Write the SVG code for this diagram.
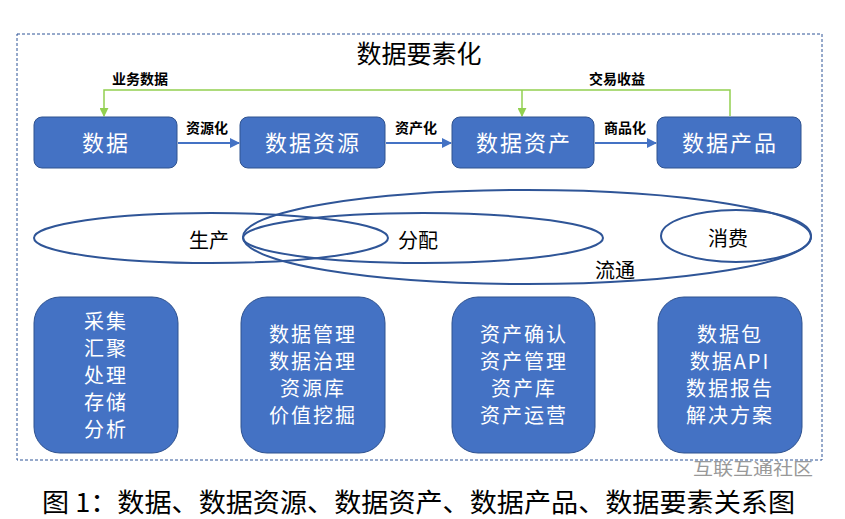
<svg xmlns="http://www.w3.org/2000/svg" width="845" height="519" viewBox="0 0 845 519">
<defs>
<style>
.frame{fill:none;stroke:#2F5597;stroke-width:1;stroke-dasharray:3 2}
.box{fill:#4472C4;stroke:#2F528F;stroke-width:1}
.t{font-family:"Noto Sans CJK SC","Liberation Sans",sans-serif;text-anchor:middle}
.bt{fill:#fff;font-size:22px;letter-spacing:2px}
.lt{fill:#fff;font-size:20px;letter-spacing:2px}
.lab{fill:#000;font-size:14px;font-weight:bold}
.ell{fill:none;stroke:#2F5597;stroke-width:2}
.el{fill:#000;font-size:20px}
.flow{stroke:#4472C4;stroke-width:2;fill:none}
.green{stroke:#92D050;stroke-width:1.5;fill:none}
</style>
<marker id="ab" viewBox="0 0 10 10" refX="9" refY="5" markerWidth="5" markerHeight="5" orient="auto"><path d="M0,0L10,5L0,10z" fill="#4472C4"/></marker>
<marker id="ag" viewBox="0 0 10 10" refX="9" refY="5" markerWidth="6" markerHeight="6" orient="auto"><path d="M0,0L10,5L0,10z" fill="#92D050"/></marker>
</defs>
<rect class="frame" x="17" y="34" width="805" height="426"/>
<text class="t" x="419" y="63" font-size="25" fill="#000">数据要素化</text>

<g id="connectors">
<path class="flow" d="M178,143H239" marker-end="url(#ab)"/>
<path class="flow" d="M386,143H451" marker-end="url(#ab)"/>
<path class="flow" d="M595,143H656" marker-end="url(#ab)"/>
<path class="green" d="M730,116V90H104V116" marker-end="url(#ag)"/>
<path class="green" d="M522,90V116" marker-end="url(#ag)"/>
<text class="t lab" x="140" y="84">业务数据</text>
<text class="t lab" x="617" y="84">交易收益</text>
<text class="t lab" x="207" y="133">资源化</text>
<text class="t lab" x="416" y="133">资产化</text>
<text class="t lab" x="625" y="133">商品化</text>
</g>

<g id="n-shuju"><rect class="box" x="34" y="117" width="143" height="51" rx="8"/><text class="t bt" x="106" y="151">数据</text></g>
<g id="n-ziyuan"><rect class="box" x="240" y="117" width="145" height="51" rx="8"/><text class="t bt" x="313" y="151">数据资源</text></g>
<g id="n-zichan"><rect class="box" x="452" y="117" width="142" height="51" rx="8"/><text class="t bt" x="524" y="151">数据资产</text></g>
<g id="n-chanpin"><rect class="box" x="657" y="117" width="144" height="51" rx="8"/><text class="t bt" x="730" y="151">数据产品</text></g>

<g id="cycle">
<ellipse class="ell" cx="211" cy="238" rx="177" ry="25"/>
<ellipse class="ell" cx="423" cy="238" rx="180" ry="25"/>
<ellipse class="ell" cx="527" cy="237" rx="284" ry="47"/>
<ellipse class="ell" cx="736" cy="236" rx="75" ry="26"/>
<text class="t el" x="209" y="248">生产</text>
<text class="t el" x="418" y="248">分配</text>
<text class="t el" x="728" y="246">消费</text>
<text class="t el" x="615" y="278">流通</text>
</g>

<g id="b1"><rect class="box" x="34" y="297" width="144" height="156" rx="26"/>
<text class="t lt" x="106" y="329">采集</text><text class="t lt" x="106" y="356">汇聚</text><text class="t lt" x="106" y="383">处理</text><text class="t lt" x="106" y="410">存储</text><text class="t lt" x="106" y="437">分析</text></g>
<g id="b2"><rect class="box" x="241" y="297" width="144" height="156" rx="26"/>
<text class="t lt" x="313" y="342">数据管理</text><text class="t lt" x="313" y="369">数据治理</text><text class="t lt" x="313" y="396">资源库</text><text class="t lt" x="313" y="423">价值挖掘</text></g>
<g id="b3"><rect class="box" x="452" y="297" width="143" height="156" rx="26"/>
<text class="t lt" x="524" y="342">资产确认</text><text class="t lt" x="524" y="369">资产管理</text><text class="t lt" x="524" y="396">资产库</text><text class="t lt" x="524" y="423">资产运营</text></g>
<g id="b4"><rect class="box" x="658" y="297" width="144" height="156" rx="26"/>
<text class="t lt" x="730" y="342">数据包</text><text class="t lt" x="730" y="369">数据API</text><text class="t lt" x="730" y="396">数据报告</text><text class="t lt" x="730" y="423">解决方案</text></g>

<text x="693" y="475" font-family="Noto Sans CJK SC,sans-serif" font-size="17" fill="#999" textLength="120" lengthAdjust="spacingAndGlyphs">互联互通社区</text>
<text x="42" y="512" font-family="Noto Sans CJK SC,sans-serif" font-size="26" fill="#000" textLength="753" lengthAdjust="spacingAndGlyphs">图 1：数据、数据资源、数据资产、数据产品、数据要素关系图</text>
</svg>
